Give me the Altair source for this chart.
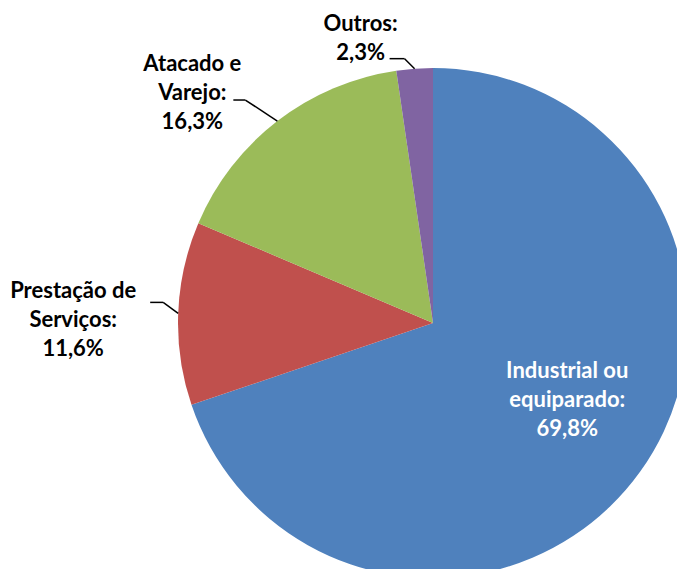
import altair as alt
import pandas as pd

# ---- data ----
categorias = ["Industrial ou equiparado", "Prestação de Serviços", "Atacado e Varejo", "Outros"]
valores = [69.8, 11.6, 16.3, 2.3]
rotulos = [
    "Industrial ou\nequiparado:\n69,8%",
    "Prestação de\nServiços:\n11,6%",
    "Atacado e\nVarejo:\n16,3%",
    "Outros:\n2,3%",
]
cores = ["#4F81BD", "#C0504D", "#9BBB59", "#8064A2"]

# ---- layout / style (not data) ----
W, H = 669, 561
CX, CY, R = 425, 315, 255
FONT = "Lato"
# first-line centre offsets relative to the slice-edge point at the mid angle
label_off = {
    "Industrial ou equiparado": (-73, -101),
    "Prestação de Serviços": (-105, -22),
    "Atacado e Varejo": (-85, -57),
    "Outros": (-54, -45),
}
# leader: (start of horizontal, elbow) relative to edge point
leader_off = {
    "Prestação de Serviços": ((-28, -11), (-15, -11)),
    "Atacado e Varejo": ((-44, -21), (-32, -21)),
    "Outros": ((-25, -10), (-10, -10)),
}
label_color = {
    "Industrial ou equiparado": "white",
    "Prestação de Serviços": "black",
    "Atacado e Varejo": "black",
    "Outros": "black",
}

rows = []
for i, (c, v, t) in enumerate(zip(categorias, valores, rotulos)):
    lo = label_off[c]
    ld = leader_off.get(c, ((0, 0), (0, 0)))
    rows.append(dict(cat=c, valor=v, rotulo=t, idx=i,
                     lox=lo[0], loy=lo[1],
                     sx=ld[0][0], sy=ld[0][1], ex=ld[1][0], ey=ld[1][1],
                     leader=c in leader_off, tcol=label_color[c]))
df = pd.DataFrame(rows)

color_scale = alt.Scale(domain=categorias, range=cores)

base = alt.Chart(df)

pie = base.mark_arc(radius=R, stroke=None).encode(
    theta=alt.Theta("valor:Q", stack=True),
    color=alt.Color("cat:N", scale=color_scale, legend=None),
    order=alt.Order("idx:Q"),
    x=alt.value(CX),
    y=alt.value(CY),
)

geo = base.transform_joinaggregate(
    total="sum(valor)"
).transform_window(
    cum="sum(valor)", sort=[alt.SortField("idx")], frame=[None, 0]
).transform_calculate(
    mid="(datum.cum - datum.valor/2) / datum.total * 2 * PI",
).transform_calculate(
    px=f"{CX} + {R} * sin(datum.mid)",
    py=f"{CY} - {R} * cos(datum.mid)",
).transform_calculate(
    tx="datum.px + datum.lox",
    ty="datum.py + datum.loy",
    hx1="datum.px + datum.sx",
    hy1="datum.py + datum.sy",
    hx2="datum.px + datum.ex",
    hy2="datum.py + datum.ey",
)

lead_h = geo.transform_filter("datum.leader").mark_rule(color="black", strokeWidth=1.5).encode(
    x=alt.X("hx1:Q", scale=None), y=alt.Y("hy1:Q", scale=None),
    x2="hx2:Q", y2="hy2:Q",
)
lead_d = geo.transform_filter("datum.leader").mark_rule(color="black", strokeWidth=1.5).encode(
    x=alt.X("hx2:Q", scale=None), y=alt.Y("hy2:Q", scale=None),
    x2="px:Q", y2="py:Q",
)

labels = geo.mark_text(
    font=FONT, fontSize=22, fontWeight="bold", align="center", baseline="middle",
    lineBreak="\n", lineHeight=29,
).encode(
    x=alt.X("tx:Q", scale=None), y=alt.Y("ty:Q", scale=None),
    text="rotulo:N",
    color=alt.Color("tcol:N", scale=None),
)

chart = alt.layer(pie, lead_h, lead_d, labels).properties(
    width=W, height=H, padding=0, autosize=alt.AutoSizeParams(type="none"),
    background="white",
).configure_view(stroke=None)

chart.save("out.html", embed_options={"renderer": "svg", "actions": False})
